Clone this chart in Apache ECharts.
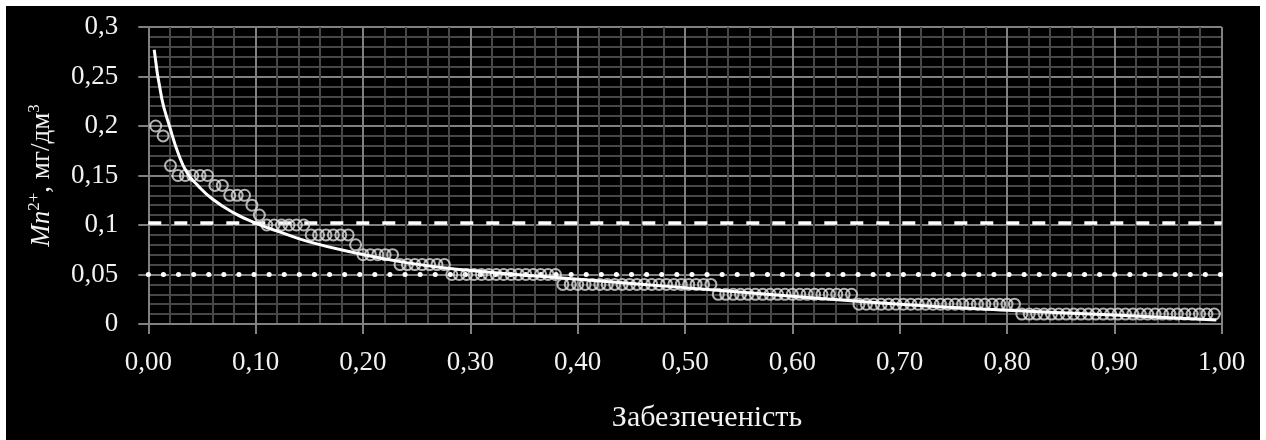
<!DOCTYPE html>
<html>
<head>
<meta charset="utf-8">
<script src="https://cdn.jsdelivr.net/npm/echarts@6/dist/echarts.min.js"></script>
<style>
  html, body { margin: 0; padding: 0; background: #ffffff; width: 1266px; height: 440px; overflow: hidden; }
  #chart { position: absolute; left: 6px; top: 6px; width: 1254px; height: 434px; background: #000000; }
</style>
</head>
<body>
<div id="chart"></div>
<script>
// Observed concentration levels (sorted, descending) and how many observations sit at each level
const levels = [0.20, 0.19, 0.16, 0.15, 0.14, 0.13, 0.12, 0.11, 0.10, 0.09, 0.08, 0.07, 0.06, 0.05, 0.04, 0.03, 0.02, 0.01];
const counts = [1,    1,    1,    5,    2,    3,    1,    1,    6,    6,    1,    5,    7,    15,   21,   19,   22,   27];

// Fitted curve
const fitP = [0.0055, 0.0125, 0.02, 0.028, 0.036, 0.046, 0.06, 0.08, 0.10, 0.125, 0.15, 0.188, 0.24, 0.30, 0.38, 0.45, 0.53, 0.60, 0.70, 0.80, 0.90, 0.995];
const fitV = [0.277,  0.228,  0.199, 0.172, 0.153, 0.140, 0.126, 0.112, 0.102, 0.092, 0.083, 0.073, 0.062, 0.054, 0.047, 0.041, 0.034, 0.028, 0.020, 0.014, 0.009, 0.004];

// Reference levels
const dashedLevel = 0.102;
const dottedLevel = 0.05;

// Tick labels
const xTickLabels = ['0,00','0,10','0,20','0,30','0,40','0,50','0,60','0,70','0,80','0,90','1,00'];
const yTickLabels = ['0','0,05','0,1','0,15','0,2','0,25','0,3'];

// Empirical exceedance probability: rank / (N + 1)
const sorted = [];
levels.forEach((v, i) => { for (let k = 0; k < counts[i]; k++) sorted.push(v); });
const N = sorted.length;
const obsData = sorted.map((v, i) => [(i + 1) / (N + 1), v]);
const fitData = fitP.map((p, i) => [p, fitV[i]]);

const FONT = '"Liberation Serif", "DejaVu Serif", serif';
const TXT = '#f2f2f2';
const MAJOR = '#808080';
const MINOR = '#474747';

const chart = echarts.init(document.getElementById('chart'), null, { renderer: 'canvas' });
chart.setOption({
  animation: false,
  backgroundColor: '#000000',
  grid: { left: 142.3, right: 38.3, top: 21, bottom: 116 },
  xAxis: {
    type: 'value', min: 0, max: 1, interval: 0.1,
    name: 'Забезпеченість',
    nameLocation: 'middle', nameGap: 79,
    nameTextStyle: { color: TXT, fontFamily: FONT, fontSize: 30, lineHeight: 30, padding: [0, 0, 0, 44] },
    axisLine: { show: true, lineStyle: { color: MAJOR, width: 2 } },
    axisTick: { show: true, length: 10, lineStyle: { color: MAJOR, width: 2 } },
    axisLabel: { margin: 25, color: TXT, fontFamily: FONT, fontSize: 27,
      formatter: v => xTickLabels[Math.round(v / 0.1)] },
    splitLine: { show: true, lineStyle: { color: MAJOR, width: 2 } },
    minorTick: { show: false, splitNumber: 5 },
    minorSplitLine: { show: true, lineStyle: { color: MINOR, width: 2 } }
  },
  yAxis: {
    type: 'value', min: 0, max: 0.3, interval: 0.05,
    name: '{i|Mn}{s|2+}{t|, мг/дм}{s|3}',
    nameLocation: 'middle', nameGap: 90, nameRotate: 90,
    nameTextStyle: {
      color: TXT, fontFamily: FONT, fontSize: 27,
      rich: {
        i: { fontStyle: 'italic', fontFamily: FONT, fontSize: 27, color: TXT, lineHeight: 32 },
        t: { fontFamily: FONT, fontSize: 27, color: TXT, lineHeight: 32 },
        s: { fontFamily: FONT, fontSize: 17, color: TXT, lineHeight: 32, verticalAlign: 'top' }
      }
    },
    axisLine: { show: true, lineStyle: { color: MAJOR, width: 2 } },
    axisTick: { show: true, length: 10, lineStyle: { color: MAJOR, width: 2 } },
    axisLabel: { margin: 30, color: TXT, fontFamily: FONT, fontSize: 27,
      formatter: v => yTickLabels[Math.round(v / 0.05)] },
    splitLine: { show: true, lineStyle: { color: MAJOR, width: 2 } },
    minorTick: { show: false, splitNumber: 5 },
    minorSplitLine: { show: true, lineStyle: { color: MINOR, width: 2 } }
  },
  series: [
    {
      type: 'line', data: [[0, dottedLevel], [1, dottedLevel]], showSymbol: false, silent: true, z: 2,
      lineStyle: { color: '#ffffff', width: 5, type: [0.1, 15], cap: 'round' }
    },
    {
      type: 'line', data: [[0, dashedLevel], [1, dashedLevel]], showSymbol: false, silent: true, z: 2,
      lineStyle: { color: '#ffffff', width: 3.5, type: [13, 13] }
    },
    {
      type: 'scatter', data: obsData, symbol: 'circle', symbolSize: 11, silent: true, z: 3,
      itemStyle: { color: 'rgba(0,0,0,0)', borderColor: '#dedede', borderWidth: 2 }
    },
    {
      type: 'line', data: fitData, smooth: true, showSymbol: false, silent: true, z: 4,
      lineStyle: { color: '#ffffff', width: 3 }
    }
  ]
});
</script>
</body>
</html>
